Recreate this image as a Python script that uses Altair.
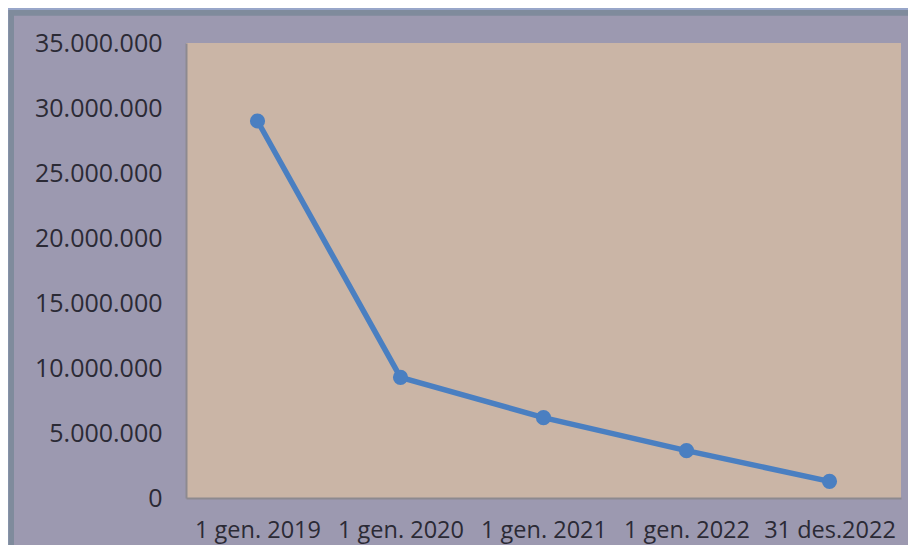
import altair as alt
import pandas as pd

dates = ["1 gen. 2019", "1 gen. 2020", "1 gen. 2021", "1 gen. 2022", "31 des.2022"]
values = [29000000, 9280000, 6180000, 3640000, 1280000]
y_ticks = [0, 5000000, 10000000, 15000000, 20000000, 25000000, 30000000, 35000000]

df = pd.DataFrame({"date": dates, "value": values})
one = pd.DataFrame({"k": [0]})

W, H = 715, 455
FONT = "Open Sans"
TEXT = "#2b2a35"

outer_strip = alt.Chart(one).mark_rect(fill="#98a6c9").encode(
    x=alt.value(-300), x2=alt.value(1200), y=alt.value(-60), y2=alt.value(-33)
)
frame = alt.Chart(one).mark_rect(fill="#9c99b0", stroke="#7f8b9c", strokeWidth=5.7).encode(
    x=alt.value(-174.85), x2=alt.value(1200), y=alt.value(-30.15), y2=alt.value(1200)
)
plot_bg = alt.Chart(one).mark_rect(fill="#cab5a6").encode(
    x=alt.value(0), x2=alt.value(W), y=alt.value(0), y2=alt.value(H)
)

x_enc = alt.X(
    "date:N",
    sort=dates,
    scale=alt.Scale(type="point", padding=0.5),
    axis=alt.Axis(
        title=None, labelAngle=0, ticks=False, tickSize=0, labelPadding=20,
        labelFont=FONT, labelFontSize=23.5, labelColor=TEXT,
        domainColor="#8d8a8f", domainWidth=2, grid=False, zindex=1,
    ),
)
y_enc = alt.Y(
    "value:Q",
    scale=alt.Scale(domain=[0, 35000000], nice=False),
    axis=alt.Axis(
        title=None, values=y_ticks, ticks=False, tickSize=0, labelPadding=24,
        labelFont=FONT, labelFontSize=25, labelColor=TEXT,
        labelExpr="replace(format(datum.value, ','), regexp(',', 'g'), '.')",
        domainColor="#8d8a8f", domainWidth=2, grid=False, zindex=1,
    ),
)

line = alt.Chart(df).mark_line(color="#4a7fc1", strokeWidth=5.5).encode(x=x_enc, y=y_enc)
pts = alt.Chart(df).mark_point(filled=True, color="#4a7fc1", size=230, opacity=1, shape="circle").encode(
    x=x_enc, y=y_enc
)

chart = (
    alt.layer(outer_strip, frame, plot_bg, line, pts)
    .properties(
        width=W, height=H,
        autosize=alt.AutoSizeParams(type="none"),
        padding={"left": 178, "top": 35, "right": 7, "bottom": 47},
        background="#98a6c9",
    )
    .configure_view(stroke=None)
)

chart.save("out.html", embed_options={"renderer": "svg", "actions": False})
